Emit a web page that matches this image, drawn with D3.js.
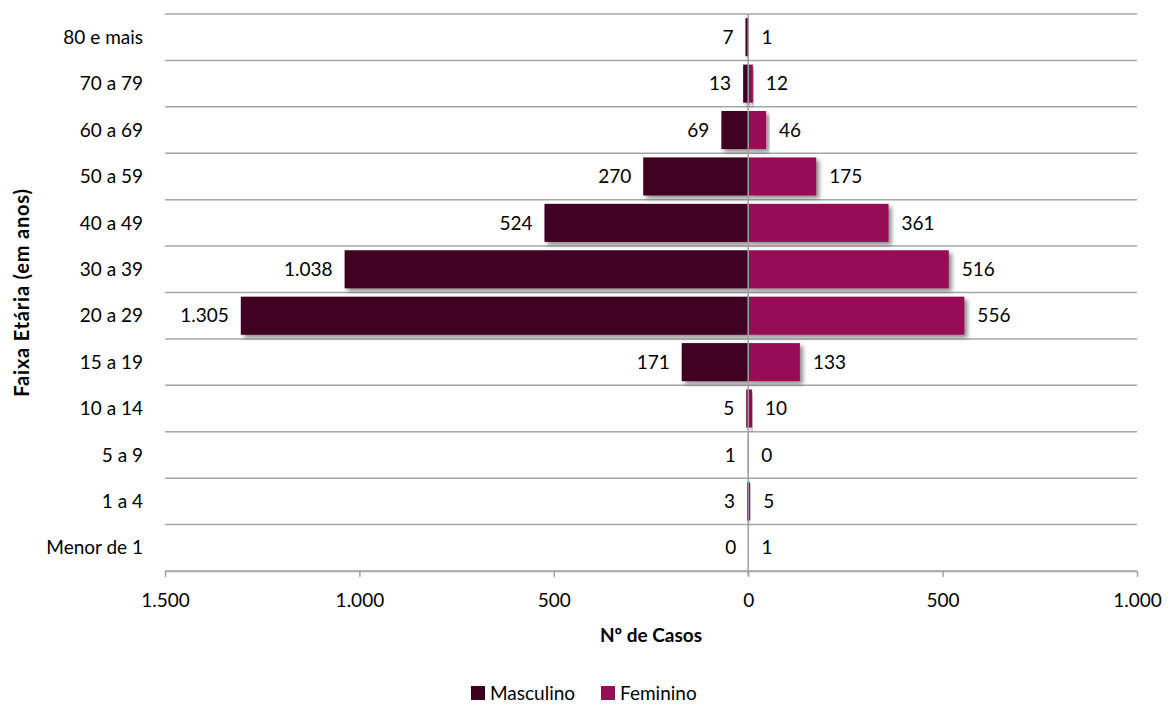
<!DOCTYPE html>
<html><head><meta charset="utf-8">
<script src="https://cdn.jsdelivr.net/npm/d3@7"></script>
<style>body{margin:0;background:#fff}svg{display:block;font-family:Lato,"Open Sans",sans-serif}</style>
</head><body><svg id="c" width="1168" height="704"></svg>
<script>
const categories = ["Menor de 1","1 a 4","5 a 9","10 a 14","15 a 19","20 a 29","30 a 39","40 a 49","50 a 59","60 a 69","70 a 79","80 e mais"];
const masculino = [0,3,1,5,171,1305,1038,524,270,69,13,7];
const feminino  = [1,5,0,10,133,556,516,361,175,46,12,1];
const xTicks = [-1500,-1000,-500,0,500,1000];
const seriesNames = ["Masculino","Feminino"];
const colors = ["#3f0020","#960e55"];

const FS = 19;
const svg = d3.select("#c");
const L = 165, R = 1137, T = 14, B = 571;
const x = d3.scaleLinear().domain([-1500,1000]).range([L,R]);
const y = d3.scaleBand().domain(categories.slice().reverse()).range([T,B]).paddingInner(0.18).paddingOuter(0.09);
const step = (B-T)/categories.length;

const defs = svg.append("defs");
const f = defs.append("filter").attr("id","sh").attr("x","-20%").attr("y","-20%").attr("width","140%").attr("height","160%");
f.append("feDropShadow").attr("dx",3).attr("dy",3).attr("stdDeviation",2).attr("flood-color","#000").attr("flood-opacity",0.45);

const fmt = v => d3.format(",")(Math.abs(v)).replace(/,/g,".");

// gridlines
const gridY = d3.range(categories.length+1).map(i => T + i*step);
svg.append("g").selectAll("line").data(gridY).join("line")
  .attr("x1",L).attr("x2",R).attr("y1",d=>d).attr("y2",d=>d)
  .attr("stroke","#a6a6a6").attr("stroke-width",1.5);

// bars
const rows = categories.map((c,i)=>({c, m:masculino[i], f:feminino[i]}));
const gb = svg.append("g");
gb.selectAll("rect.m").data(rows).join("rect").attr("class","m")
  .attr("x",d=>x(-d.m)).attr("width",d=>x(0)-x(-d.m))
  .attr("y",d=>y(d.c)).attr("height",y.bandwidth())
  .attr("fill",colors[0]).attr("filter","url(#sh)");
gb.selectAll("rect.f").data(rows).join("rect").attr("class","f")
  .attr("x",x(0)).attr("width",d=>x(d.f)-x(0))
  .attr("y",d=>y(d.c)).attr("height",y.bandwidth())
  .attr("fill",colors[1]).attr("filter","url(#sh)");

// zero line
svg.append("line").attr("x1",x(0)).attr("x2",x(0)).attr("y1",T).attr("y2",B+5)
  .attr("stroke","#a0a0a0").attr("stroke-width",1.5);

// value labels
const gl = svg.append("g").attr("font-size",FS).attr("fill","#000");
gl.selectAll("text.m").data(rows).join("text")
  .attr("x",d=>x(-d.m)-12).attr("y",d=>y(d.c)+y.bandwidth()/2).attr("dy","0.35em")
  .attr("text-anchor","end").text(d=>fmt(d.m));
gl.selectAll("text.f").data(rows).join("text")
  .attr("x",d=>x(d.f)+13).attr("y",d=>y(d.c)+y.bandwidth()/2).attr("dy","0.35em")
  .attr("text-anchor","start").text(d=>fmt(d.f));

// x axis
const xa = svg.append("g").attr("transform",`translate(0,${B})`)
  .call(d3.axisBottom(x).tickValues(xTicks).tickFormat(fmt).tickSize(6).tickPadding(17));
xa.select(".domain").attr("stroke","#a6a6a6").attr("stroke-width",1.5).attr("d",`M${L},0.5H${R}`);
xa.selectAll(".tick line").attr("stroke","#a6a6a6").attr("stroke-width",1.5);
xa.selectAll("text").attr("font-size",FS).attr("fill","#000").attr("font-family","Lato");

// category labels
svg.append("g").selectAll("text").data(categories).join("text")
  .attr("x",143).attr("y",d=>y(d)+y.bandwidth()/2).attr("dy","0.35em")
  .attr("text-anchor","end").attr("font-size",FS).text(d=>d);

// titles
svg.append("text").attr("x",(L+R)/2).attr("y",642).attr("text-anchor","middle")
  .attr("font-size",FS).attr("font-weight","bold").text("Nº de Casos");
svg.append("text").attr("transform",`translate(29,${(T+B)/2}) rotate(-90)`).attr("text-anchor","middle")
  .attr("font-size",20).attr("letter-spacing",0.8).attr("font-weight","bold").text("Faixa Etária (em anos)");

// legend
const lg = svg.append("g");
const lx = [471, 601];
seriesNames.forEach((n,i)=>{
  lg.append("rect").attr("x",lx[i]).attr("y",686).attr("width",14).attr("height",14).attr("fill",colors[i]);
  lg.append("text").attr("x",lx[i]+19).attr("y",693).attr("dy","0.35em").attr("font-size",FS).text(n);
});
</script></body></html>
